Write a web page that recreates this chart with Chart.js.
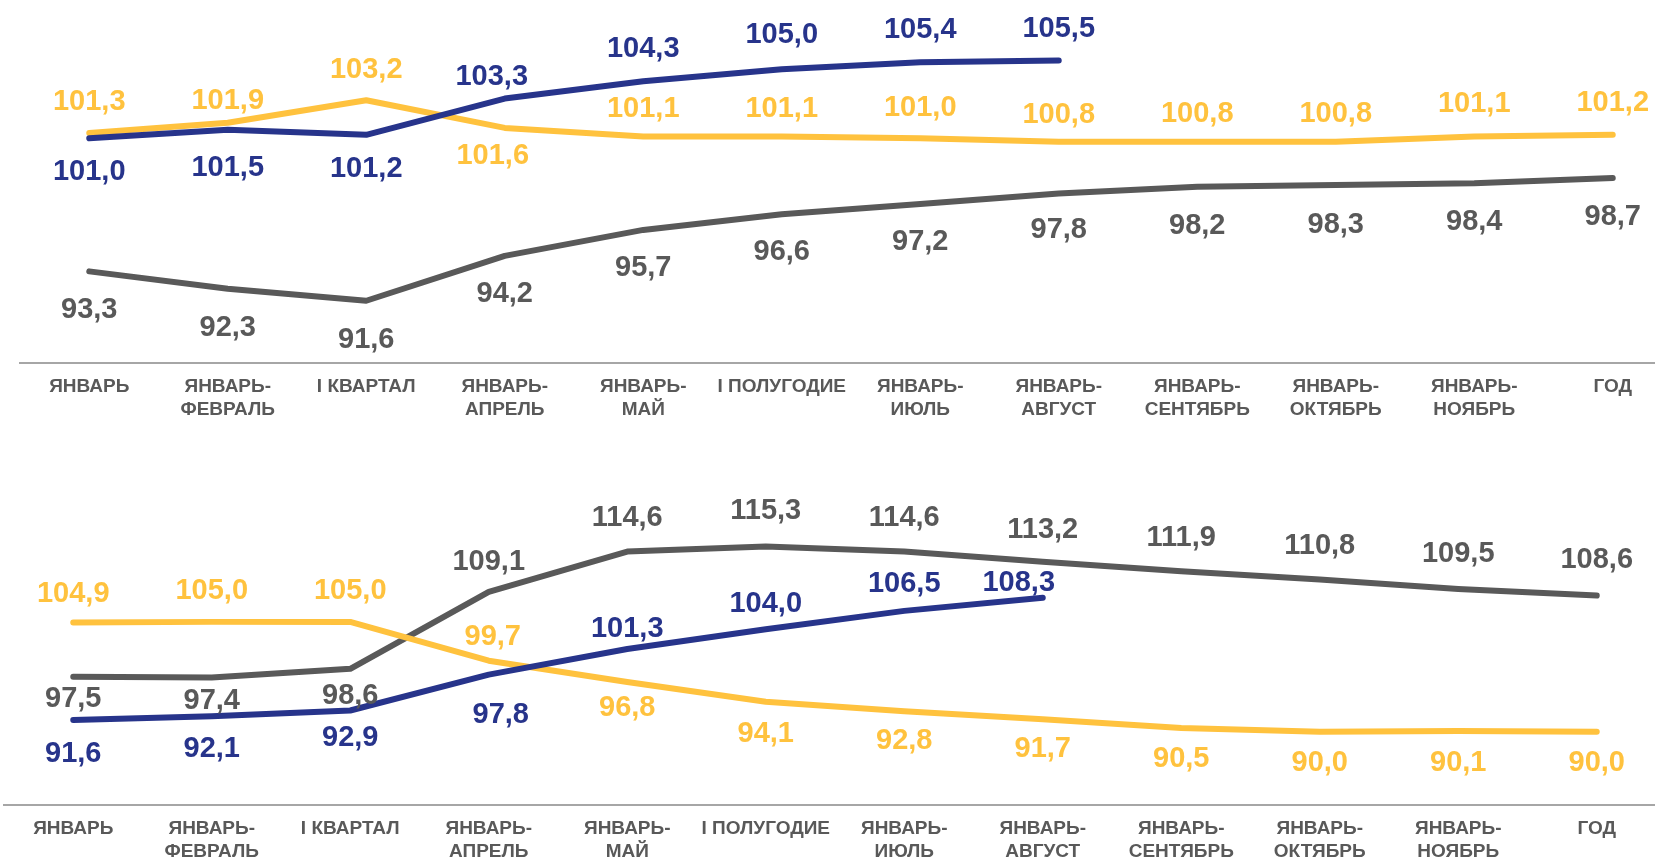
<!DOCTYPE html>
<html lang="ru">
<head>
    <meta charset="UTF-8">
    <title>Индексы</title>
    <script src="https://cdn.jsdelivr.net/npm/chart.js"></script>
    <style>
        body {
            margin: 0;
            background: #fff;
            overflow: hidden;
            width: 1655px;
            height: 857px;
            position: relative;
        }
        .box {
            position: absolute;
            left: 0;
        }
    </style>
</head>
<body>
    <div class="box" style="top:0"><canvas id="chartTop" width="1682" height="430"></canvas></div>
    <div class="box" style="top:430px"><canvas id="chartBottom" width="1666" height="442"></canvas></div>

    <script>
        // periods
        const periods = [
            'ЯНВАРЬ', ['ЯНВАРЬ-', 'ФЕВРАЛЬ'], 'I КВАРТАЛ', ['ЯНВАРЬ-', 'АПРЕЛЬ'],
            ['ЯНВАРЬ-', 'МАЙ'], 'I ПОЛУГОДИЕ', ['ЯНВАРЬ-', 'ИЮЛЬ'], ['ЯНВАРЬ-', 'АВГУСТ'],
            ['ЯНВАРЬ-', 'СЕНТЯБРЬ'], ['ЯНВАРЬ-', 'ОКТЯБРЬ'], ['ЯНВАРЬ-', 'НОЯБРЬ'], 'ГОД'
        ];

        // upper chart
        const topYellow = [101.3, 101.9, 103.2, 101.6, 101.1, 101.1, 101.0, 100.8, 100.8, 100.8, 101.1, 101.2];
        const topBlue = [101.0, 101.5, 101.2, 103.3, 104.3, 105.0, 105.4, 105.5, null, null, null, null];
        const topGray = [93.3, 92.3, 91.6, 94.2, 95.7, 96.6, 97.2, 97.8, 98.2, 98.3, 98.4, 98.7];

        // lower chart
        const botYellow = [104.9, 105.0, 105.0, 99.7, 96.8, 94.1, 92.8, 91.7, 90.5, 90.0, 90.1, 90.0];
        const botBlue = [91.6, 92.1, 92.9, 97.8, 101.3, 104.0, 106.5, 108.3, null, null, null, null];
        const botGray = [97.5, 97.4, 98.6, 109.1, 114.6, 115.3, 114.6, 113.2, 111.9, 110.8, 109.5, 108.6];

        // value label placement relative to its point (px), negative = above
        const topYellowDy = [-31, -22, -30, 28, -28, -28, -30, -27, -28, -28, -33, -32];
        const topBlueDy = [34, 38, 34, -22, -32, -34, -32, -32];
        const topGrayDy = [39, 39, 39, 38, 38, 38, 38, 36, 39, 40, 39, 39];
        const botYellowDy = [-29, -31, -31, -24, 26, 32, 30, 30, 31, 31, 32, 31];
        const botBlueDy = [34, 33, 27, 40, -20, -25, -27, -15];
        const botGrayDy = [22, 23, 27, -30, -34, -35, -34, -32, -33, -33, -35, -36];
        // a few labels are nudged sideways
        const topYellowDx = [0, 0, 0, -12];
        const topBlueDx = [0, 0, 0, -13];
        const botBlueDx = [0, 0, 0, 12, 0, 0, 0, -24];
        const botYellowDx = [0, 0, 0, 4];

        const YELLOW = '#FFC23E';
        const BLUE = '#27348B';
        const GRAY = '#595959';
        const FONT = '"Liberation Sans", Arial, sans-serif';

        // draws the value labels next to each point
        const valueLabels = {
            id: 'valueLabels',
            afterDatasetsDraw(chart) {
                const ctx = chart.ctx;
                chart.data.datasets.forEach((ds, i) => {
                    const meta = chart.getDatasetMeta(i);
                    meta.data.forEach((pt, j) => {
                        const v = ds.data[j];
                        if (v == null) return;
                        const dx = (ds.labelDx && ds.labelDx[j]) || 0;
                        ctx.save();
                        ctx.font = 'bold 29px ' + FONT;
                        ctx.fillStyle = ds.borderColor;
                        ctx.textAlign = 'center';
                        ctx.textBaseline = 'middle';
                        ctx.fillText(v.toFixed(1).replace('.', ','), pt.x + dx, pt.y + ds.labelDy[j]);
                        ctx.restore();
                    });
                });
            }
        };

        function line(data, color, dy, dx) {
            return {
                data: data,
                labelDy: dy,
                labelDx: dx,
                borderColor: color,
                backgroundColor: color,
                borderWidth: 6,
                borderCapStyle: 'round',
                borderJoinStyle: 'round',
                pointRadius: 0,
                tension: 0,
                spanGaps: false
            };
        }

        function makeChart(id, datasets, yMin, yMax, pad) {
            new Chart(document.getElementById(id), {
                type: 'line',
                data: { labels: periods, datasets: datasets },
                options: {
                    responsive: false,
                    animation: false,
                    layout: { padding: pad },
                    plugins: { legend: { display: false }, tooltip: { enabled: false } },
                    scales: {
                        x: {
                            offset: true,
                            grid: { display: false },
                            border: { display: true, color: '#A6A6A6', width: 2 },
                            ticks: {
                                color: GRAY,
                                padding: 4,
                                maxRotation: 0,
                                autoSkip: false,
                                font: { family: FONT, size: 19, weight: 'bold', lineHeight: 1.22 }
                            },
                            afterFit: s => { s.height = 67; }
                        },
                        y: { display: false, min: yMin, max: yMax }
                    }
                },
                plugins: [valueLabels]
            });
        }

        makeChart('chartTop', [
            line(topBlue, BLUE, topBlueDy, topBlueDx),
            line(topYellow, YELLOW, topYellowDy, topYellowDx),
            line(topGray, GRAY, topGrayDy)
        ], 88, 109, { left: 20, right: 0, top: 0, bottom: 0 });

        makeChart('chartBottom', [
            line(botBlue, BLUE, botBlueDy, botBlueDx),
            line(botYellow, YELLOW, botYellowDy, botYellowDx),
            line(botGray, GRAY, botGrayDy)
        ], 80, 120, { left: 4, right: 0, top: 82, bottom: 0 });
    </script>
</body>
</html>
